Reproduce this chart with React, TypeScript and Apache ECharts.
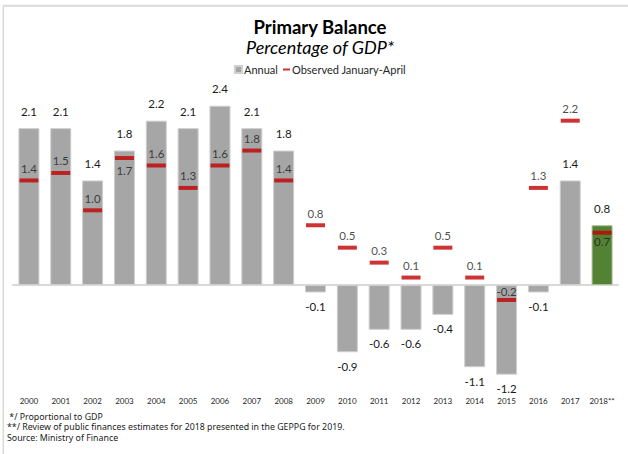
import React, { useEffect, useRef } from "react";
import * as echarts from "echarts";

const years = ["2000","2001","2002","2003","2004","2005","2006","2007","2008","2009","2010","2011","2012","2013","2014","2015","2016","2017","2018**"];
const annual = [2.1, 2.1, 1.4, 1.8, 2.2, 2.1, 2.4, 2.1, 1.8, -0.1, -0.9, -0.6, -0.6, -0.4, -1.1, -1.2, -0.1, 1.4, 0.8];
const observed = [1.4, 1.5, 1.0, 1.7, 1.6, 1.3, 1.6, 1.8, 1.4, 0.8, 0.5, 0.3, 0.1, 0.5, 0.1, -0.2, 1.3, 2.2, 0.7];
// observed labels placed below the marker
const observedBelow = ["2003", "2018**"];
const estimateYear = "2018**";

const titleText = "Primary Balance";
const subtitleText = "Percentage of GDP*";
const notes = [
  " */ Proportional to GDP",
  "**/ Review of public finances estimates for 2018 presented in the GEPPG for 2019.",
  "Source: Ministry of Finance",
];

const FONT = "Lato, 'Open Sans', sans-serif";
const NOTE_FONT = "'Liberation Sans Narrow', 'Noto Sans', sans-serif";

export default function App() {
  const ref = useRef<HTMLDivElement>(null);
  useEffect(() => {
    if (!ref.current) return;
    const chart = echarts.init(ref.current, null, { renderer: "svg" });
    const barData = annual.map((v, i) => ({
      value: v,
      itemStyle: years[i] === estimateYear ? { color: "#548235", borderColor: "#a9bf98" } : undefined,
      label: {
        position: v >= 0 ? "top" : "bottom",
        distance: v >= 0 ? 11 : 8,
      },
    }));
    const obsData = observed.map((v, i) => {
      const below = observedBelow.includes(years[i]);
      let dist = 4;
      if (years[i] === "2015") dist = 0;
      if (years[i] === estimateYear) dist = 1;
      return { value: v, label: { position: below ? "bottom" : "top", distance: dist } };
    });
    chart.setOption({
      animation: false,
      backgroundColor: "#ffffff",
      textStyle: { fontFamily: FONT },
      title: [
        {
          text: titleText,
          left: 320,
          top: 17,
          padding: 0,
          textAlign: "center",
          textStyle: { fontFamily: FONT, fontSize: 18.5, lineHeight: 19, fontWeight: "bold", color: "#000" },
        },
        {
          text: subtitleText,
          left: 320,
          top: 37,
          padding: 0,
          textAlign: "center",
          textStyle: { fontFamily: FONT, fontSize: 18, lineHeight: 19, fontStyle: "italic", fontWeight: "normal", color: "#000" },
        },
      ],
      legend: [
        {
          data: [{ name: "Annual", icon: "rect" }],
          left: 234,
          top: 64,
          itemWidth: 7,
          itemHeight: 7,
          itemGap: 4,
          padding: 0,
          textStyle: { fontFamily: FONT, fontSize: 11, color: "#262626", padding: [0, 0, 0, -3] },
        },
        {
          data: [{ name: "Observed January-April", icon: "rect" }],
          left: 283,
          top: 64,
          itemWidth: 7,
          itemHeight: 2,
          padding: 0,
          textStyle: { fontFamily: FONT, fontSize: 11, color: "#262626", padding: [0, 0, 0, -3] },
        },
      ],
      grid: { left: 13, right: 10, top: 90.8, height: 298.8 },
      xAxis: [
        {
          type: "category",
          data: years,
          axisLine: { show: true, onZero: true, lineStyle: { color: "#d9d9d9", width: 2 } },
          axisTick: { show: false },
          axisLabel: { show: false },
        },
        {
          type: "category",
          data: years,
          position: "bottom",
          axisLine: { show: false, onZero: false },
          axisTick: { show: false },
          axisLabel: { show: true, fontFamily: FONT, fontSize: 8, color: "#262626", margin: 7, interval: 0 },
        },
      ],
      yAxis: {
        type: "value",
        min: -1.4,
        max: 2.6,
        show: false,
        splitLine: { show: false },
      },
      series: [
        {
          name: "Annual",
          type: "bar",
          xAxisIndex: 0,
          barWidth: 21,
          data: barData,
          itemStyle: { color: "#a6a6a6", borderColor: "#cfcfcf", borderWidth: 1 },
          label: {
            show: true,
            fontFamily: FONT,
            fontSize: 11.5,
            color: "#1a1a1a",
            formatter: (p: any) => Number(p.value).toFixed(1),
          },
          z: 2,
        },
        {
          name: "Observed January-April",
          type: "scatter",
          xAxisIndex: 0,
          symbol: "rect",
          symbolSize: [19, 4],
          itemStyle: { color: "#c00000" },
          data: obsData,
          label: {
            show: true,
            fontFamily: FONT,
            fontSize: 11.5,
            color: "#1a1a1a",
            formatter: (p: any) => Number(p.value).toFixed(1),
          },
          z: 5,
        },
      ],
      graphic: [
        { type: "line", shape: { x1: 3, y1: 5.8, x2: 628, y2: 5.8 }, style: { stroke: "#d9d9d9", lineWidth: 2 }, silent: true },
        { type: "line", shape: { x1: 3.3, y1: 5, x2: 3.3, y2: 454 }, style: { stroke: "#d9d9d9", lineWidth: 1.5 }, silent: true },
        ...notes.map((t, i) => ({
          type: "text",
          left: 7,
          top: 412 + i * 10.8,
          style: {
            text: t,
            fontFamily: NOTE_FONT,
            fontSize: 8.8,
            lineHeight: 9,
            fill: "#1a1a1a",
          },
          silent: true,
        })),
      ],
    });
    return () => chart.dispose();
  }, []);
  return (
    <div
      ref={ref}
      style={{ position: "absolute", left: 0, top: 0, width: 628, height: 454, background: "#fff" }}
    />
  );
}
